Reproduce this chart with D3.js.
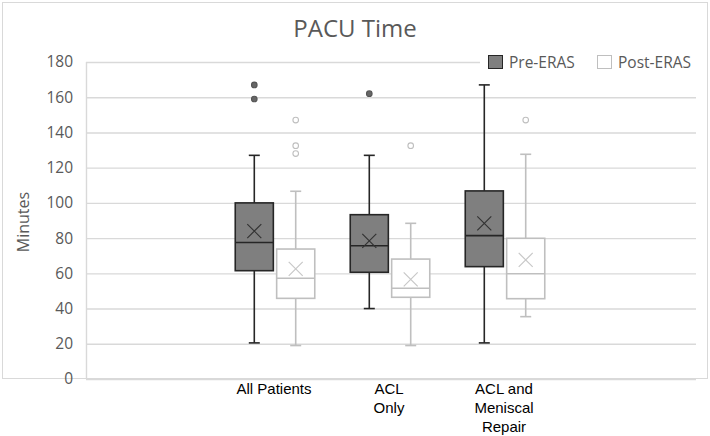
<!DOCTYPE html>
<html>
<head>
<meta charset="utf-8">
<script src="https://cdn.jsdelivr.net/npm/d3@7"></script>
<style>
  html, body { margin: 0; padding: 0; background: #fff; }
  svg { display: block; }
</style>
</head>
<body>
<svg id="chart" width="710" height="436"></svg>
<script>
// ---- data (minutes) ----
const categories = ["All Patients", "ACL Only", "ACL and Meniscal Repair"];
const categoryLines = [["All Patients"], ["ACL", "Only"], ["ACL and", "Meniscal", "Repair"]];
const seriesNames = ["Pre-ERAS", "Post-ERAS"];
const yTicks = [0, 20, 40, 60, 80, 100, 120, 140, 160, 180];

// per category: [whiskerLow, Q1, median, Q3, whiskerHigh]
const preStats = [
  [20.5, 61.5, 77.5, 100, 127],
  [40, 60.6, 75.7, 93.3, 127],
  [20.5, 63.8, 81.4, 106.8, 167]
];
const preMeans = [84, 78.4, 88.4];
const preOutliers = [[159, 167], [162], []];

const postStats = [
  [19, 45.8, 57.2, 73.8, 106.6],
  [19, 46.4, 51.5, 68.1, 88.4],
  [35.4, 45.6, 59.8, 79.9, 127.6]
];
const postMeans = [62.5, 56.6, 67.6];
const postOutliers = [[128, 132.5, 147], [132.5], [147]];

// ---- layout ----
const svg = d3.select("#chart");
const plot = { left: 86, right: 696, top: 62, bottom: 379 };

// frame
svg.append("rect").attr("x", 2.5).attr("y", 2.5).attr("width", 705).attr("height", 376)
  .attr("fill", "#fff").attr("stroke", "#d9d9d9").attr("stroke-width", 1);

const y = d3.scaleLinear().domain([0, 180]).range([plot.bottom, plot.top]);
const x = d3.scaleBand().domain(categories).range([216.5, 561.5]).padding(0);
const sub = d3.scaleBand().domain(seriesNames).range([-40, 42]).paddingInner(0.08).paddingOuter(0.03);

// gridlines via axis
const yAxis = d3.axisLeft(y).tickValues(yTicks).tickSize(-(plot.right - plot.left)).tickPadding(13);
const gy = svg.append("g").attr("transform", `translate(${plot.left},0)`).call(yAxis);
gy.select(".domain").remove();
gy.selectAll(".tick line").attr("stroke", "#d9d9d9").attr("stroke-width", 1.4);
gy.selectAll(".tick text").attr("fill", "#595959").attr("font-family", "'Open Sans', sans-serif")
  .attr("font-size", 15.5);
// left axis line
svg.append("line").attr("x1", plot.left + 0.5).attr("x2", plot.left + 0.5)
  .attr("y1", plot.top).attr("y2", plot.bottom).attr("stroke", "#d9d9d9").attr("stroke-width", 1.4);

// title
svg.append("text").attr("x", 355).attr("y", 37).attr("text-anchor", "middle")
  .attr("font-family", "'Open Sans', sans-serif").attr("font-size", 24).attr("fill", "#595959")
  .text("PACU Time");

// y title
svg.append("text").attr("transform", "translate(29,222) rotate(-90)").attr("text-anchor", "middle")
  .attr("font-family", "'Open Sans', sans-serif").attr("font-size", 16).attr("fill", "#595959")
  .text("Minutes");

// legend
const legend = svg.append("g");
legend.append("rect").attr("x", 480).attr("y", 50).attr("width", 216).attr("height", 22).attr("fill", "#fff");
const legendItems = [
  { name: seriesNames[0], x: 488, fill: "#7f7f7f", stroke: "#262626" },
  { name: seriesNames[1], x: 597, fill: "#fff", stroke: "#bfbfbf" }
];
legendItems.forEach(d => {
  legend.append("rect").attr("x", d.x + 0.5).attr("y", 55.5).attr("width", 14).attr("height", 13)
    .attr("fill", d.fill).attr("stroke", d.stroke).attr("stroke-width", 1);
  legend.append("text").attr("x", d.x + 21).attr("y", 67.5).attr("font-family", "'Open Sans', sans-serif")
    .attr("font-size", 15.5).attr("fill", "#595959").text(d.name);
});

// boxes
const series = [
  { name: seriesNames[0], stats: preStats, means: preMeans, outliers: preOutliers,
    fill: "#7f7f7f", stroke: "#262626", meanStroke: "#333", outFill: "#666", outStroke: "#555" },
  { name: seriesNames[1], stats: postStats, means: postMeans, outliers: postOutliers,
    fill: "#fff", stroke: "#bfbfbf", meanStroke: "#c8c8c8", outFill: "#fff", outStroke: "#bfbfbf" }
];

series.forEach(s => {
  categories.forEach((c, i) => {
    const st = s.stats[i];
    const bx = x(c) + x.bandwidth() / 2 + sub(s.name);
    const bw = sub.bandwidth();
    const cx = bx + bw / 2;
    const g = svg.append("g");
    // whiskers
    g.append("line").attr("x1", cx).attr("x2", cx).attr("y1", y(st[3])).attr("y2", y(st[4]))
      .attr("stroke", s.stroke).attr("stroke-width", 1.6);
    g.append("line").attr("x1", cx).attr("x2", cx).attr("y1", y(st[0])).attr("y2", y(st[1]))
      .attr("stroke", s.stroke).attr("stroke-width", 1.6);
    [st[0], st[4]].forEach(v => {
      g.append("line").attr("x1", cx - 5.5).attr("x2", cx + 5.5).attr("y1", y(v)).attr("y2", y(v))
        .attr("stroke", s.stroke).attr("stroke-width", 1.6);
    });
    // box
    g.append("rect").attr("x", bx).attr("y", y(st[3])).attr("width", bw).attr("height", y(st[1]) - y(st[3]))
      .attr("fill", s.fill).attr("stroke", s.stroke).attr("stroke-width", 1.6);
    // median
    g.append("line").attr("x1", bx).attr("x2", bx + bw).attr("y1", y(st[2])).attr("y2", y(st[2]))
      .attr("stroke", s.stroke).attr("stroke-width", 1.6);
    // mean X
    const my = y(s.means[i]);
    const m = 7;
    g.append("path").attr("d", `M${cx - m},${my - m}L${cx + m},${my + m}M${cx - m},${my + m}L${cx + m},${my - m}`)
      .attr("stroke", s.meanStroke).attr("stroke-width", 1.2).attr("fill", "none");
    // outliers
    s.outliers[i].forEach(v => {
      g.append("circle").attr("cx", cx).attr("cy", y(v)).attr("r", 2.8)
        .attr("fill", s.outFill).attr("stroke", s.outStroke).attr("stroke-width", 1.1);
    });
  });
});

// category labels
categories.forEach((c, i) => {
  const cx = x(c) + x.bandwidth() / 2;
  const t = svg.append("text").attr("text-anchor", "middle")
    .attr("font-family", "'Liberation Sans', Arial, sans-serif").attr("font-size", 15).attr("fill", "#000");
  categoryLines[i].forEach((line, j) => {
    t.append("tspan").attr("x", cx).attr("y", 394 + j * 19).text(line);
  });
});
</script>
</body>
</html>
